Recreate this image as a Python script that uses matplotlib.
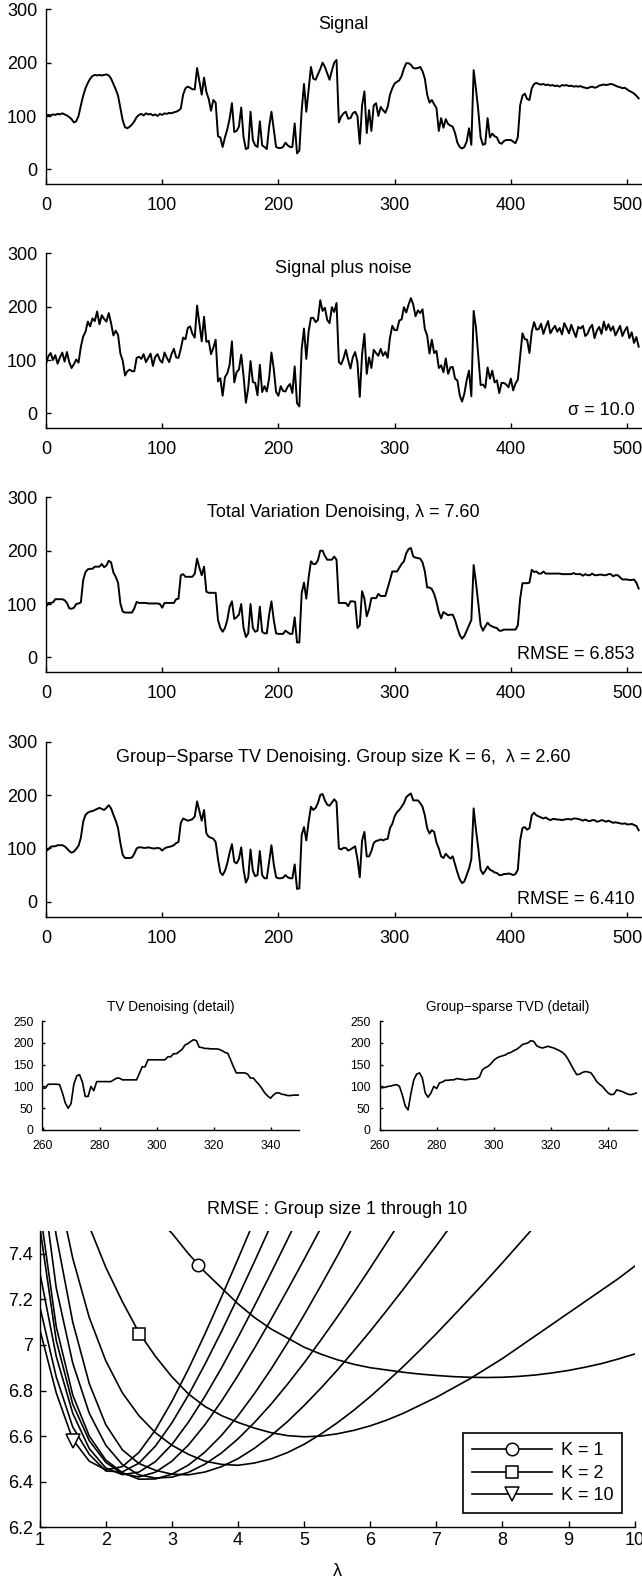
import numpy as np
import matplotlib
matplotlib.use("Agg")
import matplotlib.pyplot as plt
from matplotlib.lines import Line2D

plt.rcParams['font.family'] = ['Liberation Sans', 'DejaVu Sans']

# ---------------- data (samples every 2 points, n = 0..510) ----------------
signal_clean = [
    101,102,101,103,102,104,103,105,103,101,98,94,88,90,100,120,
    138,152,162,170,175,177,176,177,176,177,178,176,170,160,150,138,
    115,92,79,77,80,84,90,98,102,104,101,105,103,104,101,103,
    100,104,102,105,104,106,105,107,108,110,114,140,152,155,153,150,
    150,190,165,140,172,145,132,110,130,125,62,60,42,60,75,95,
    124,70,72,80,116,60,38,40,108,55,45,42,90,45,42,38,
    80,108,75,42,40,40,42,50,45,42,42,86,30,35,110,160,
    108,150,192,170,168,178,188,200,192,180,168,185,200,205,88,99,
    105,108,95,96,105,108,100,48,120,146,68,111,72,120,124,100,
    117,111,106,117,140,152,161,164,167,175,189,199,199,196,190,189,
    190,192,184,170,140,125,130,122,115,72,96,78,94,85,82,80,
    68,50,42,39,42,52,77,46,186,150,110,60,46,48,96,60,
    67,62,60,50,48,53,55,55,55,52,49,60,120,138,142,132,
    130,152,160,162,160,159,160,158,159,157,158,156,157,155,158,157,
    158,156,157,155,156,155,156,154,153,152,154,155,153,154,157,158,
    159,158,159,160,159,157,155,154,152,153,150,147,145,142,138,133]

signal_noisy = [
    93,107,113,100,109,93,105,114,97,115,96,85,92,101,95,125,
    144,153,172,163,178,173,191,167,184,177,172,188,169,146,155,147,
    112,99,71,79,82,79,79,104,106,102,111,96,104,112,89,106,
    111,100,95,114,104,96,111,121,105,104,121,142,139,160,163,149,
    142,202,168,135,181,134,136,111,123,138,60,66,33,68,75,91,
    135,58,77,82,110,70,20,47,98,59,57,34,91,40,51,41,
    66,114,83,40,33,51,42,41,50,55,38,88,19,13,120,159,
    102,154,179,179,171,175,212,192,198,175,169,199,190,207,96,92,
    103,119,100,84,105,115,96,31,111,149,74,105,85,119,113,108,
    121,108,115,104,142,164,156,156,174,176,199,189,204,216,204,182,
    193,188,195,158,146,112,138,113,117,85,90,77,103,74,86,87,
    65,62,34,22,37,62,80,32,192,161,108,53,54,48,86,65,
    80,58,62,38,57,57,54,49,65,43,56,63,107,150,139,138,
    113,153,171,157,158,168,149,162,173,150,158,164,153,160,148,169,
    160,150,166,154,143,162,159,164,145,149,160,166,141,155,162,149,
    172,156,167,155,163,146,155,164,145,155,162,141,152,132,143,125]

tv_denoised = [
    95,102,102,103,109,109,109,109,107,102,92,91,93,100,101,103,
    145,160,165,166,166,170,170,170,175,169,172,181,178,159,151,140,
    101,86,84,84,84,84,92,104,102,102,102,102,101,101,101,101,
    101,100,93,102,102,102,102,102,109,110,154,156,151,151,151,151,
    157,185,168,154,170,123,121,121,121,121,70,55,48,55,70,95,
    105,72,75,80,100,55,38,45,100,55,48,50,95,48,45,45,
    80,105,70,45,44,44,44,50,47,44,44,75,28,28,120,140,
    110,150,180,175,175,182,200,200,190,183,183,183,189,183,102,102,
    102,102,96,105,105,104,55,60,124,110,77,90,111,111,111,119,
    115,115,115,130,145,161,161,161,168,175,180,195,203,205,189,187,
    186,185,178,161,131,131,128,119,104,85,73,85,82,79,80,80,
    70,55,42,35,40,50,60,70,173,140,101,60,50,58,65,60,
    58,56,55,50,50,52,52,52,52,52,52,60,110,139,139,139,
    140,164,160,161,157,157,161,157,157,157,157,157,157,157,156,156,
    156,156,156,158,156,156,156,153,156,154,154,157,154,154,155,155,
    154,154,156,156,152,154,154,150,146,146,146,145,145,146,140,129]

gs_denoised = [
    95,98,103,104,104,106,106,106,104,100,95,92,94,99,105,120,
    150,163,167,169,170,172,174,176,174,172,176,181,175,163,152,138,
    110,88,82,82,82,83,90,100,102,102,101,101,102,101,100,100,
    101,100,96,100,102,103,104,106,110,112,148,156,154,152,153,155,
    160,188,170,152,172,128,122,120,118,112,80,55,50,58,72,92,
    108,75,72,80,102,60,36,45,98,58,48,50,95,50,44,44,
    75,106,70,46,44,44,45,50,46,44,44,70,24,25,125,140,
    115,150,178,172,176,185,200,202,190,182,180,186,192,187,100,98,
    101,101,96,98,101,104,80,46,115,131,85,85,95,110,114,115,
    117,115,117,118,138,146,160,168,172,178,185,196,200,203,190,190,
    190,185,178,162,138,128,134,131,111,100,85,82,90,85,81,85,
    70,55,42,35,38,50,62,80,175,135,100,60,52,58,66,60,
    58,55,54,50,50,52,52,53,52,50,52,60,115,138,140,135,
    138,162,167,162,160,158,156,158,155,153,155,155,154,154,153,154,
    155,155,154,156,156,155,154,152,154,152,151,153,153,150,151,153,
    152,150,152,150,148,149,148,147,146,147,145,145,146,144,142,134]

# detail (n = 260..350, every sample)
tv_detail = [
    96,96,105,105,105,105,104,85,62,50,
    60,105,124,127,110,77,77,100,90,111,
    111,111,111,111,111,115,119,119,115,115,
    115,115,115,115,130,145,145,161,161,161,
    161,161,161,161,168,168,175,175,180,185,
    195,198,203,207,205,190,189,187,187,186,
    186,186,185,182,178,176,161,145,131,131,
    131,131,128,119,119,111,104,95,85,78,
    73,80,85,85,82,81,79,79,80,80,
    80]
gs_detail = [
    96,97,98,100,101,103,104,100,80,55,
    46,84,115,128,131,119,85,75,85,100,
    95,108,110,114,114,115,115,118,117,116,
    115,116,117,117,118,122,138,143,146,152,
    160,165,168,170,172,176,178,182,185,190,
    196,198,200,205,203,193,190,188,190,192,
    190,188,185,182,178,172,162,150,138,127,
    128,132,134,133,131,122,111,105,100,92,
    85,81,82,92,90,88,85,82,81,83,
    85]

panel_titles = ['Signal', 'Signal plus noise',
                'Total Variation Denoising, \u03bb = 7.60',
                'Group\u2212Sparse TV Denoising. Group size K = 6,  \u03bb = 2.60']
panel_notes = ['', '\u03c3 = 10.0', 'RMSE = 6.853', 'RMSE = 6.410']
detail_titles = ['TV Denoising (detail)', 'Group\u2212sparse TVD (detail)']

# RMSE vs lambda
lam = [1.0, 1.25, 1.5, 1.75, 2.0, 2.25, 2.5, 2.75, 3.0, 3.25, 3.5, 3.75, 4.0,
       4.25, 4.5, 4.75, 5.0, 5.25, 5.5, 5.75, 6.0, 6.25, 6.5, 6.75, 7.0, 7.25,
       7.5, 7.75, 8.0, 8.25, 8.5, 8.75, 9.0, 9.25, 9.5, 9.75, 10.0]
rmse_k1 = [8.60, 8.35, 8.12, 7.95, 7.82, 7.72, 7.64, 7.56, 7.49, 7.40, 7.32, 7.25, 7.18,
           7.12, 7.07, 7.03, 6.99, 6.96, 6.935, 6.915, 6.90, 6.89, 6.88, 6.872, 6.866, 6.861,
           6.858, 6.857, 6.858, 6.862, 6.868, 6.877, 6.888, 6.902, 6.918, 6.938, 6.96]
rmse_k2 = [8.60, 8.20, 7.80, 7.52, 7.34, 7.19, 7.055, 6.95, 6.86, 6.785, 6.73, 6.69, 6.66,
           6.635, 6.615, 6.602, 6.597, 6.60, 6.61, 6.625, 6.645, 6.67, 6.70, 6.735, 6.77, 6.81,
           6.85, 6.895, 6.94, 6.99, 7.04, 7.09, 7.14, 7.19, 7.24, 7.29, 7.345]
rmse_k3 = [8.10, 7.72, 7.38, 7.12, 6.93, 6.79, 6.69, 6.615, 6.56, 6.52, 6.49, 6.476, 6.472,
           6.482, 6.50, 6.528, 6.564, 6.608, 6.658, 6.713, 6.773, 6.838, 6.905, 6.976, 7.049, 7.125,
           7.202, 7.28, 7.36, 7.442, 7.524, 7.61, 7.69, 7.77, 7.85, 7.93, 8.01]
rmse_k4 = [7.95, 7.48, 7.10, 6.83, 6.65, 6.54, 6.48, 6.45, 6.433, 6.43, 6.4425, 6.466, 6.501,
           6.547, 6.602, 6.664, 6.734, 6.809, 6.889, 6.973, 7.06, 7.151, 7.244, 7.339, 7.435, 7.534,
           7.63, 7.73, 7.83, 7.93, 8.03, 8.13, 8.23, 8.33, 8.43, 8.53, 8.63]
rmse_k5 = [7.80, 7.25, 6.92, 6.70, 6.56, 6.475, 6.43, 6.416, 6.42, 6.441, 6.477, 6.526, 6.588,
           6.66, 6.74, 6.828, 6.921, 7.02, 7.122, 7.228, 7.337, 7.449, 7.562, 7.68, 7.80, 7.92,
           8.04, 8.16, 8.28, 8.40, 8.52, 8.64, 8.76, 8.88, 9.0, 9.12, 9.24]
rmse_k6 = [7.60, 7.08, 6.78, 6.60, 6.495, 6.44, 6.411, 6.412, 6.433, 6.473, 6.53, 6.603, 6.689,
           6.787, 6.894, 7.009, 7.131, 7.258, 7.389, 7.524, 7.66, 7.80, 7.94, 8.08, 8.22, 8.36,
           8.5, 8.64, 8.78, 8.92, 9.06, 9.2, 9.34, 9.48, 9.62, 9.76, 9.9]
rmse_k7 = [7.52, 7.02, 6.74, 6.58, 6.485, 6.435, 6.421, 6.4415, 6.49, 6.561, 6.65, 6.753, 6.866,
           6.986, 7.112, 7.242, 7.375, 7.511, 7.65, 7.79, 7.93, 8.07, 8.21, 8.35, 8.5, 8.65,
           8.8, 8.95, 9.1, 9.25, 9.4, 9.55, 9.7, 9.85, 10.0, 10.15, 10.3]
rmse_k8 = [7.32, 6.95, 6.70, 6.545, 6.46, 6.431, 6.442, 6.488, 6.563, 6.661, 6.774, 6.899, 7.033,
           7.172, 7.316, 7.463, 7.612, 7.76, 7.91, 8.06, 8.21, 8.36, 8.51, 8.66, 8.81, 8.96,
           9.11, 9.26, 9.41, 9.56, 9.71, 9.86, 10.01, 10.16, 10.31, 10.46, 10.61]
rmse_k9 = [7.17, 6.86, 6.64, 6.52, 6.447, 6.443, 6.481, 6.556, 6.658, 6.78, 6.915, 7.059, 7.21,
           7.366, 7.526, 7.69, 7.85, 8.01, 8.17, 8.33, 8.49, 8.65, 8.81, 8.97, 9.13, 9.29,
           9.45, 9.61, 9.77, 9.93, 10.09, 10.25, 10.41, 10.57, 10.73, 10.89, 11.05]
rmse_k10 = [7.07, 6.79, 6.585, 6.49, 6.452, 6.466, 6.528, 6.627, 6.752, 6.894, 7.048, 7.21, 7.377,
            7.548, 7.72, 7.89, 8.06, 8.23, 8.40, 8.57, 8.74, 8.91, 9.08, 9.25, 9.42, 9.59,
            9.76, 9.93, 10.1, 10.27, 10.44, 10.61, 10.78, 10.95, 11.12, 11.29, 11.46]
marker_lam = [3.4, 2.5, 1.5]
marker_rmse = [7.35, 7.05, 6.58]
legend_labels = ['K = 1', 'K = 2', 'K = 10']
rmse_yticks = [6.2, 6.4, 6.6, 6.8, 7.0, 7.2, 7.4]
rmse_yticklabels = ['6.2', '6.4', '6.6', '6.8', '7', '7.2', '7.4']

# ---------------- figure ----------------
W, H = 642, 1581
fig = plt.figure(figsize=(W / 100, H / 100), dpi=100)


def frame(l, t, r, b):
    return [l / W, 1 - b / H, (r - l) / W, (b - t) / H]


def style(ax, fs, xpad, ypad, tlen):
    for s in ('top', 'right'):
        ax.spines[s].set_visible(False)
    for s in ('left', 'bottom'):
        ax.spines[s].set_linewidth(1.0)
    ax.tick_params(direction='in', length=tlen, width=1.0, labelsize=fs, colors='k')
    ax.tick_params(axis='x', pad=xpad)
    ax.tick_params(axis='y', pad=ypad)


x = np.arange(0, 512, 2)
series = [signal_clean, signal_noisy, tv_denoised, gs_denoised]
tops = [9.3, 253.3, 497.3, 741.7]
for i in range(4):
    ax = fig.add_axes(frame(46, tops[i], 641, tops[i] + 175))
    ax.plot(x, series[i], color='k', lw=1.4)
    ax.set_xlim(0, 512)
    ax.set_ylim(-28, 300)
    ax.set_xticks([0, 100, 200, 300, 400, 500])
    ax.set_yticks([0, 100, 200, 300])
    style(ax, 13, 9.5, 6.3, 3.5)
    ax.text(256, 271, panel_titles[i], ha='center', va='center', fontsize=13)
    if panel_notes[i]:
        ax.text(506.5, 5, panel_notes[i], ha='right', va='center', fontsize=13)

xd = np.arange(260, 351)
for j, (dat, l, r) in enumerate([(tv_detail, 42.5, 299), (gs_detail, 379.5, 636.7)]):
    ax = fig.add_axes(frame(l, 1021, r, 1130))
    ax.plot(xd, dat, color='k', lw=1.2)
    ax.set_xlim(260, 350)
    ax.set_ylim(0, 250)
    ax.set_xticks([260, 280, 300, 320, 340])
    ax.set_yticks([0, 50, 100, 150, 200, 250])
    style(ax, 8.7, 7.5, 6.5, 2.5)
    ax.text(0.5, 1 + 14.3 / 109, detail_titles[j], transform=ax.transAxes,
            ha='center', va='center', fontsize=9.8)

ax = fig.add_axes(frame(39.7, 1230.9, 634.6, 1527.3))
for rm in [rmse_k1, rmse_k2, rmse_k3, rmse_k4, rmse_k5, rmse_k6, rmse_k7, rmse_k8, rmse_k9, rmse_k10]:
    ax.plot(lam, rm, color='k', lw=1.2)
mk = [dict(marker='o', ms=9), dict(marker='s', ms=8), dict(marker='v', ms=10)]
for m, lx, ly in zip(mk, marker_lam, marker_rmse):
    ax.plot([lx], [ly], ls='none', mfc='w', mec='k', mew=1.1, zorder=5, **m)
ax.set_xlim(1, 10)
ax.set_ylim(6.2, 7.5)
ax.set_xticks(range(1, 11))
ax.set_yticks(rmse_yticks)
ax.set_yticklabels(rmse_yticklabels)
style(ax, 13, 3.5, 5, 4)
ax.text(0.5, 1 + 20.9 / 296.4, 'RMSE : Group size 1 through 10', transform=ax.transAxes,
        ha='center', va='center', fontsize=13)
ax.text(0.5, -44.4 / 296.4, '\u03bb', transform=ax.transAxes, ha='center', va='center', fontsize=13)
handles = [Line2D([], [], color='k', lw=1.2, mfc='w', mec='k', mew=1.1, **m) for m in mk]
leg = ax.legend(handles, legend_labels, loc='lower right', bbox_to_anchor=(0.9793, 0.0472),
                borderaxespad=0, frameon=True, fancybox=False, edgecolor='k', framealpha=1,
                fontsize=13, handlelength=4.4, handletextpad=0.5, labelspacing=0.3, borderpad=0.5)
leg.get_frame().set_linewidth(1.2)

fig.savefig('out.png', dpi=100)
